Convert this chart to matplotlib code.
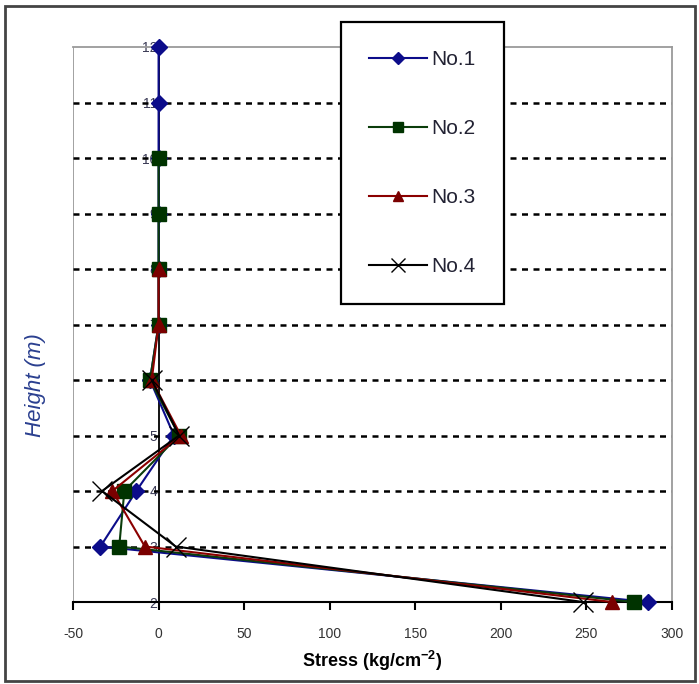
import matplotlib.pyplot as plt
from matplotlib.patches import Rectangle

plt.rcParams['axes.unicode_minus'] = False

# heights (m) and stress (kg/cm^-2)
heights_1 = [2, 3, 4, 5, 6, 7, 8, 9, 10, 11, 12]
stress_1 = [286, -34, -13, 9, -5, 0, 0, 0, 0, 0, 0]
heights_2 = [2, 3, 4, 5, 6, 7, 8, 9, 10]
stress_2 = [278, -23, -20, 12, -5, 0, 0, 0, 0]
heights_3 = [2, 3, 4, 5, 6, 7, 8]
stress_3 = [265, -8, -27, 13, -4, 0, 0]
heights_4 = [2, 3, 4, 5, 6]
stress_4 = [248, 10, -33, 12, -4]

labels = ['No.1', 'No.2', 'No.3', 'No.4']
x_ticks = [-50, 0, 50, 100, 150, 200, 250, 300]
y_ticks = [2, 3, 4, 5, 6, 7, 8, 9, 10, 11, 12]

sans = ['Liberation Sans', 'DejaVu Sans']

fig = plt.figure(figsize=(6.99, 6.84), dpi=100)
ax = fig.add_axes([73/699, 1-602/684, 599/699, 555/684])

# outer frame round the whole picture
fig.patches.append(Rectangle((5/699, 3/684), 690/699, 675/684, transform=fig.transFigure,
                             fill=False, edgecolor='#444444', linewidth=2))

# dashed grid, only between the frame lines
ax.hlines(y_ticks[1:-1], -50, 300, colors='black', linestyles=(0, (2.4, 2.2)), linewidth=1.8, zorder=1)

ax.plot(stress_1, heights_1, color='#0c0c8a', lw=1.5, marker='D', ms=8, label=labels[0], zorder=3, clip_on=False)
ax.plot(stress_2, heights_2, color='#0b3d0b', lw=1.5, marker='s', ms=10, mfc='#003300', mec='#003300', label=labels[1], zorder=3, clip_on=False)
ax.plot(stress_3, heights_3, color='#8b0000', lw=1.5, marker='^', ms=10, mfc='#7a0000', mec='#7a0000', label=labels[2], zorder=3, clip_on=False)
ax.plot(stress_4, heights_4, color='black', lw=1.5, marker='x', ms=14, mew=1.0, label=labels[3], zorder=3, clip_on=False)

ax.set_xlim(-50, 300)
ax.set_ylim(2, 12)
ax.set_xticks(x_ticks)
ax.set_yticks(y_ticks)
ax.set_axisbelow(True)

# y axis drawn at stress = 0, gray frame on the other sides
ax.spines['left'].set_position(('data', 0))
ax.spines['left'].set_color('black')
ax.spines['left'].set_linewidth(1.3)
ax.spines['bottom'].set_color('black')
ax.spines['bottom'].set_linewidth(1.5)
for s in ['top', 'right']:
    ax.spines[s].set_color('#9a9a9a')
    ax.spines[s].set_linewidth(1.3)
ax.axvline(-50, color='#9a9a9a', lw=1.3, zorder=0.6)

ax.tick_params(axis='x', direction='out', length=6, width=1.5, colors='black', labelcolor='#333333', pad=12)
ax.tick_params(axis='y', length=0, pad=1, labelcolor='#3a3a55')
for t in ax.get_xticklabels():
    t.set_family(sans)
    t.set_fontsize(10)
for t in ax.get_yticklabels():
    t.set_family(sans)
    t.set_fontsize(10)

ax.set_xlabel('Stress (kg/cm$^{\\mathregular{-2}}$)', fontsize=13, fontweight='bold', family=sans)
ax.xaxis.set_label_coords(0.5, -0.085)
ax.set_ylabel('Height (m)', fontsize=16, fontstyle='italic', color='#2a3f8f', family=sans)
ax.yaxis.set_label_coords(-0.045, 0.39)

leg = ax.legend(loc='upper left', bbox_to_anchor=(341/699, 1-22/684), bbox_transform=fig.transFigure,
                borderaxespad=0, fancybox=False, framealpha=1, edgecolor='black', markerscale=0.75,
                handlelength=2.8, handletextpad=0.2, labelspacing=2.4, borderpad=1.35,
                prop={'family': sans, 'size': 15})
leg.get_frame().set_linewidth(1.6)
leg.set_zorder(5)
for t in leg.get_texts():
    t.set_color('#222233')

fig.savefig('out.png', dpi=100)
